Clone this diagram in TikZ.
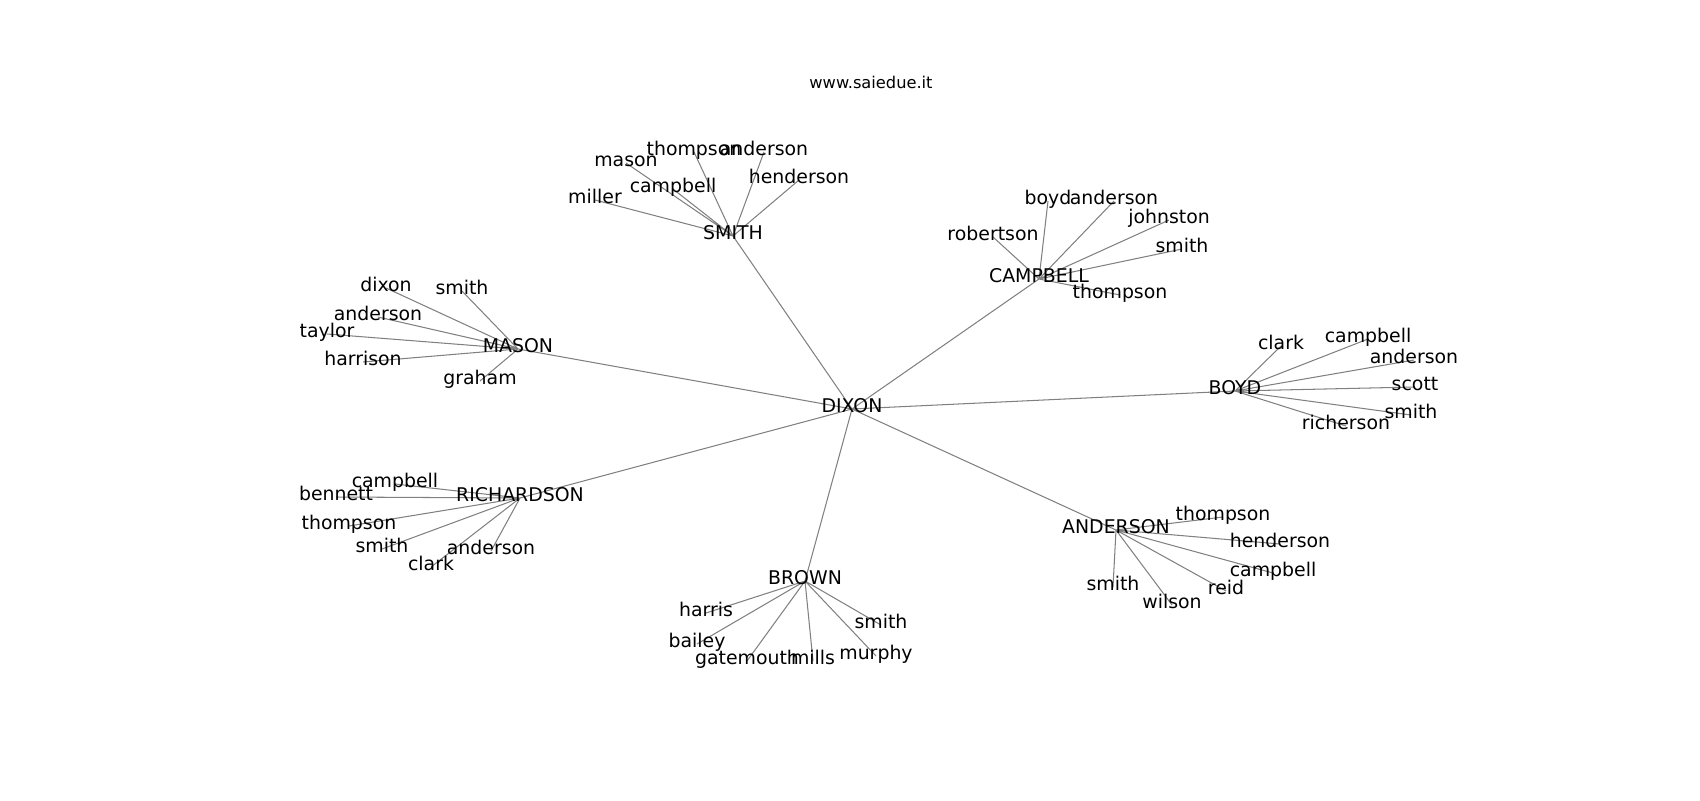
\documentclass[tikz,border=0pt]{standalone}
\usepackage{fontspec}
\setmainfont{DejaVu Sans}
\usetikzlibrary{backgrounds}

\begin{document}
\begin{tikzpicture}[x=0.72pt, y=-0.72pt,
    lbl/.style={inner sep=0pt, text height=0.75em, text depth=0.25em, font=\fontsize{13.6}{16}\selectfont},
    link/.style={draw=black!50, line width=0.75pt}]
    \useasboundingbox (0,-3) rectangle (1700,797);

    \node[font=\fontsize{11.7}{14}\selectfont] (title) at (871,79) {www.saiedue.it};

    \node[lbl] (DIX) at (852,406) {DIXON};
    \node[lbl] (SMI) at (733,233) {SMITH};
    \node[lbl] (CAM) at (1039,276) {CAMPBELL};
    \node[lbl] (MAS) at (518,346) {MASON};
    \node[lbl] (BOY) at (1235,388) {BOYD};
    \node[lbl] (RIC) at (520,495) {RICHARDSON};
    \node[lbl] (BRO) at (805,578) {BROWN};
    \node[lbl] (AND) at (1116,527) {ANDERSON};

    \node[lbl] (s1) at (595,197) {miller};
    \node[lbl] (s2) at (626,160) {mason};
    \node[lbl] (s3) at (673,186) {campbell};
    \node[lbl] (s4) at (694,149) {thompson};
    \node[lbl] (s5) at (764,149) {anderson};
    \node[lbl] (s6) at (799,177) {henderson};

    \node[lbl] (c1) at (993,234) {robertson};
    \node[lbl] (c2) at (1048,198) {boyd};
    \node[lbl] (c3) at (1114,198) {anderson};
    \node[lbl] (c4) at (1169,217) {johnston};
    \node[lbl] (c5) at (1182,246) {smith};
    \node[lbl] (c6) at (1120,292) {thompson};

    \node[lbl] (m1) at (386,285) {dixon};
    \node[lbl] (m2) at (462,288) {smith};
    \node[lbl] (m3) at (378,314) {anderson};
    \node[lbl] (m4) at (327,331) {taylor};
    \node[lbl] (m5) at (363,359) {harrison};
    \node[lbl] (m6) at (480,378) {graham};

    \node[lbl] (b1) at (1281,343) {clark};
    \node[lbl] (b2) at (1368,336) {campbell};
    \node[lbl] (b3) at (1414,357) {anderson};
    \node[lbl] (b4) at (1415,384) {scott};
    \node[lbl] (b5) at (1411,412) {smith};
    \node[lbl] (b6) at (1346,423) {richerson};

    \node[lbl] (r1) at (395,481) {campbell};
    \node[lbl] (r2) at (336,494) {bennett};
    \node[lbl] (r3) at (349,523) {thompson};
    \node[lbl] (r4) at (382,546) {smith};
    \node[lbl] (r5) at (431,564) {clark};
    \node[lbl] (r6) at (491,548) {anderson};

    \node[lbl] (w1) at (706,610) {harris};
    \node[lbl] (w2) at (697,641) {bailey};
    \node[lbl] (w3) at (747,658) {gatemouth};
    \node[lbl] (w4) at (813,658) {mills};
    \node[lbl] (w5) at (876,653) {murphy};
    \node[lbl] (w6) at (881,622) {smith};

    \node[lbl] (a1) at (1223,514) {thompson};
    \node[lbl] (a2) at (1280,541) {henderson};
    \node[lbl] (a3) at (1273,570) {campbell};
    \node[lbl] (a4) at (1226,588) {reid};
    \node[lbl] (a5) at (1172,602) {wilson};
    \node[lbl] (a6) at (1113,584) {smith};

    \begin{scope}[on background layer]
    \draw[link] (DIX.center) -- (SMI.center) (DIX.center) -- (CAM.center)
        (DIX.center) -- (MAS.center) (DIX.center) -- (BOY.center)
        (DIX.center) -- (RIC.center) (DIX.center) -- (BRO.center)
        (DIX.center) -- (AND.center);
    \draw[link] (SMI.center) -- (s1.center) (SMI.center) -- (s2.center) (SMI.center) -- (s3.center)
        (SMI.center) -- (s4.center) (SMI.center) -- (s5.center) (SMI.center) -- (s6.center);
    \draw[link] (CAM.center) -- (c1.center) (CAM.center) -- (c2.center) (CAM.center) -- (c3.center)
        (CAM.center) -- (c4.center) (CAM.center) -- (c5.center) (CAM.center) -- (c6.center);
    \draw[link] (MAS.center) -- (m1.center) (MAS.center) -- (m2.center) (MAS.center) -- (m3.center)
        (MAS.center) -- (m4.center) (MAS.center) -- (m5.center) (MAS.center) -- (m6.center);
    \draw[link] (BOY.center) -- (b1.center) (BOY.center) -- (b2.center) (BOY.center) -- (b3.center)
        (BOY.center) -- (b4.center) (BOY.center) -- (b5.center) (BOY.center) -- (b6.center);
    \draw[link] (RIC.center) -- (r1.center) (RIC.center) -- (r2.center) (RIC.center) -- (r3.center)
        (RIC.center) -- (r4.center) (RIC.center) -- (r5.center) (RIC.center) -- (r6.center);
    \draw[link] (BRO.center) -- (w1.center) (BRO.center) -- (w2.center) (BRO.center) -- (w3.center)
        (BRO.center) -- (w4.center) (BRO.center) -- (w5.center) (BRO.center) -- (w6.center);
    \draw[link] (AND.center) -- (a1.center) (AND.center) -- (a2.center) (AND.center) -- (a3.center)
        (AND.center) -- (a4.center) (AND.center) -- (a5.center) (AND.center) -- (a6.center);
    \end{scope}
\end{tikzpicture}
\end{document}
